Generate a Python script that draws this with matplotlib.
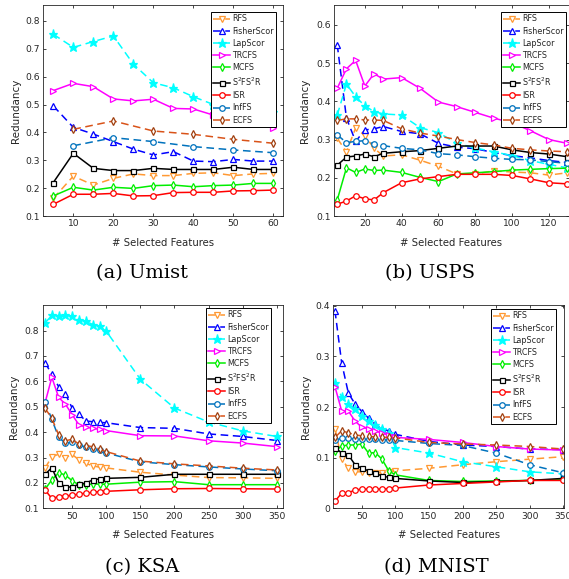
import matplotlib
matplotlib.use("Agg")
import matplotlib.pyplot as plt
from matplotlib.ticker import FixedLocator

methods = ["RFS", "FisherScor", "LapScor", "TRCFS", "MCFS", "S$^2$FS$^2$R", "ISR", "InfFS", "ECFS"]

# ---------------- Umist ----------------
umist_x = [5, 10, 15, 20, 25, 30, 35, 40, 45, 50, 55, 60]
umist_x10 = [10, 20, 30, 40, 50, 60]
umist_rfs = [0.163, 0.243, 0.211, 0.235, 0.251, 0.245, 0.245, 0.253, 0.255, 0.245, 0.251, 0.253]
umist_fisher = [0.495, 0.418, 0.394, 0.367, 0.340, 0.319, 0.331, 0.297, 0.295, 0.303, 0.297, 0.297]
umist_lap = [0.752, 0.705, 0.726, 0.746, 0.645, 0.578, 0.560, 0.528, 0.500, 0.490, 0.480, 0.472]
umist_trcfs = [0.550, 0.576, 0.564, 0.520, 0.513, 0.519, 0.486, 0.484, 0.462, 0.454, 0.430, 0.417]
umist_mcfs = [0.172, 0.203, 0.193, 0.203, 0.199, 0.209, 0.211, 0.205, 0.209, 0.211, 0.217, 0.217]
umist_s2 = [0.220, 0.325, 0.271, 0.263, 0.263, 0.271, 0.267, 0.267, 0.267, 0.275, 0.267, 0.267]
umist_isr = [0.142, 0.178, 0.178, 0.181, 0.172, 0.173, 0.184, 0.185, 0.185, 0.190, 0.191, 0.193]
umist_inffs = [0.352, 0.381, 0.367, 0.349, 0.337, 0.327]
umist_ecfs = [0.411, 0.441, 0.405, 0.393, 0.375, 0.361]

# ---------------- USPS ----------------
usps_x = [5, 10, 15, 20, 25, 30, 40, 50, 60, 70, 80, 90, 100, 110, 120, 130]
usps_rfs = [0.303, 0.268, 0.330, 0.310, 0.277, 0.257, 0.260, 0.246, 0.230, 0.210, 0.210, 0.218, 0.215, 0.213, 0.207, 0.213]
usps_fisher = [0.548, 0.356, 0.295, 0.325, 0.328, 0.334, 0.321, 0.315, 0.290, 0.280, 0.276, 0.266, 0.258, 0.252, 0.245, 0.240]
usps_lap = [0.364, 0.445, 0.412, 0.388, 0.373, 0.367, 0.364, 0.331, 0.318, 0.290, 0.278, 0.268, 0.258, 0.245, 0.235, 0.226]
usps_trcfs = [0.434, 0.485, 0.507, 0.440, 0.472, 0.458, 0.462, 0.434, 0.398, 0.386, 0.371, 0.356, 0.344, 0.323, 0.300, 0.290]
usps_mcfs = [0.142, 0.226, 0.214, 0.223, 0.219, 0.220, 0.214, 0.201, 0.190, 0.210, 0.213, 0.216, 0.220, 0.222, 0.224, 0.225]
usps_s2 = [0.233, 0.254, 0.257, 0.262, 0.255, 0.264, 0.268, 0.271, 0.277, 0.283, 0.283, 0.283, 0.273, 0.266, 0.262, 0.255]
usps_isr = [0.131, 0.139, 0.153, 0.145, 0.142, 0.161, 0.187, 0.197, 0.203, 0.209, 0.209, 0.209, 0.206, 0.197, 0.187, 0.184]
usps_inffs = [0.312, 0.292, 0.295, 0.297, 0.288, 0.284, 0.277, 0.273, 0.263, 0.260, 0.255, 0.251, 0.248, 0.247, 0.242, 0.238]
usps_ecfs = [0.350, 0.354, 0.354, 0.351, 0.351, 0.350, 0.328, 0.317, 0.309, 0.300, 0.292, 0.286, 0.277, 0.273, 0.270, 0.268]

# ---------------- KSA ----------------
ksa_x = [10, 20, 30, 40, 50, 60, 70, 80, 90, 100, 150, 200, 250, 300, 350]
ksa_rfs = [0.258, 0.303, 0.313, 0.300, 0.312, 0.290, 0.277, 0.267, 0.262, 0.259, 0.242, 0.231, 0.221, 0.220, 0.218]
ksa_fisher = [0.674, 0.628, 0.579, 0.550, 0.494, 0.470, 0.444, 0.441, 0.438, 0.437, 0.418, 0.415, 0.393, 0.383, 0.367]
ksa_lap = [0.830, 0.860, 0.859, 0.860, 0.856, 0.843, 0.837, 0.824, 0.817, 0.797, 0.608, 0.495, 0.440, 0.405, 0.383]
ksa_trcfs = [0.515, 0.616, 0.537, 0.510, 0.468, 0.428, 0.420, 0.415, 0.411, 0.406, 0.386, 0.385, 0.366, 0.357, 0.343]
ksa_mcfs = [0.175, 0.212, 0.240, 0.231, 0.208, 0.192, 0.193, 0.196, 0.195, 0.195, 0.203, 0.205, 0.193, 0.193, 0.193]
ksa_s2 = [0.234, 0.260, 0.199, 0.185, 0.183, 0.196, 0.199, 0.212, 0.216, 0.218, 0.222, 0.234, 0.234, 0.234, 0.234]
ksa_isr = [0.172, 0.139, 0.146, 0.148, 0.152, 0.156, 0.160, 0.163, 0.166, 0.167, 0.173, 0.177, 0.178, 0.177, 0.176]
ksa_inffs = [0.520, 0.450, 0.380, 0.356, 0.360, 0.350, 0.340, 0.335, 0.328, 0.318, 0.283, 0.272, 0.263, 0.255, 0.248]
ksa_ecfs = [0.494, 0.455, 0.389, 0.366, 0.372, 0.352, 0.346, 0.343, 0.333, 0.323, 0.286, 0.275, 0.267, 0.258, 0.251]

# ---------------- MNIST ----------------
mnist_x = [10, 20, 30, 40, 50, 60, 70, 80, 90, 100, 150, 200, 250, 300, 350]
mnist_rfs = [0.157, 0.097, 0.079, 0.072, 0.072, 0.070, 0.070, 0.070, 0.072, 0.074, 0.079, 0.086, 0.092, 0.097, 0.102]
mnist_fisher = [0.390, 0.287, 0.227, 0.206, 0.191, 0.178, 0.166, 0.157, 0.153, 0.146, 0.132, 0.125, 0.122, 0.117, 0.116]
mnist_lap = [0.248, 0.220, 0.206, 0.196, 0.182, 0.172, 0.165, 0.157, 0.148, 0.120, 0.109, 0.092, 0.082, 0.072, 0.068]
mnist_trcfs = [0.240, 0.192, 0.192, 0.172, 0.160, 0.157, 0.153, 0.148, 0.145, 0.140, 0.136, 0.130, 0.122, 0.117, 0.115]
mnist_mcfs = [0.113, 0.123, 0.125, 0.125, 0.127, 0.109, 0.110, 0.097, 0.074, 0.066, 0.055, 0.053, 0.054, 0.055, 0.057]
mnist_s2 = [0.120, 0.109, 0.105, 0.086, 0.079, 0.074, 0.069, 0.064, 0.061, 0.059, 0.054, 0.051, 0.053, 0.055, 0.059]
mnist_isr = [0.014, 0.030, 0.031, 0.036, 0.038, 0.038, 0.038, 0.038, 0.039, 0.040, 0.046, 0.049, 0.052, 0.055, 0.055]
mnist_inffs = [0.135, 0.138, 0.138, 0.137, 0.136, 0.136, 0.136, 0.135, 0.135, 0.134, 0.128, 0.124, 0.109, 0.086, 0.070]
mnist_ecfs = [0.140, 0.153, 0.149, 0.145, 0.143, 0.142, 0.141, 0.140, 0.140, 0.139, 0.130, 0.127, 0.125, 0.122, 0.117]

styles = [
    dict(color="#FF9933", ls=(0, (5, 3)), marker="v", mec="#FF9933"),
    dict(color="#0000FF", ls=(0, (5, 3)), marker="^", mec="#0000FF"),
    dict(color="#00FFFF", ls=(0, (5, 3)), marker="*", mec="#00FFFF", mfc="#00FFFF", ms=6.5),
    dict(color="#FF00FF", ls="-", marker=">", mec="#FF00FF"),
    dict(color="#00EE00", ls="-", marker="d", mec="#00EE00"),
    dict(color="#000000", ls="-", marker="s", mec="#000000", ms=3.6),
    dict(color="#FF0000", ls="-", marker="o", mec="#FF0000"),
    dict(color="#0072BD", ls=(0, (5, 3)), marker="o", mec="#0072BD"),
    dict(color="#D95319", ls=(0, (5, 3)), marker="d", mec="#A04010"),
]

W, H = 569, 579
fig = plt.figure(figsize=(W / 100, H / 100), dpi=100)
fig.patch.set_facecolor("white")

def px_axes(l, t, r, b):
    return fig.add_axes([l / W, 1 - b / H, (r - l) / W, (b - t) / H])

panels = [
    dict(rect=(43.3, 5.3, 282.7, 216.0), xs=[umist_x] * 7 + [umist_x10, umist_x10],
         ys=[umist_rfs, umist_fisher, umist_lap, umist_trcfs, umist_mcfs, umist_s2, umist_isr, umist_inffs, umist_ecfs],
         xlim=(2.5, 62.3), ylim=(0.1, 0.856), xticks=[10, 20, 30, 40, 50, 60],
         yticks=[0.1, 0.2, 0.3, 0.4, 0.5, 0.6, 0.7, 0.8],
         leg=(211, 12), cap="(a) Umist", capxy=(142.5, 273), ylx=15.7),
    dict(rect=(334.3, 5.3, 568.5, 216.0), xs=[usps_x] * 9,
         ys=[usps_rfs, usps_fisher, usps_lap, usps_trcfs, usps_mcfs, usps_s2, usps_isr, usps_inffs, usps_ecfs],
         xlim=(3.4, 130.7), ylim=(0.1, 0.651), xticks=[20, 40, 60, 80, 100, 120],
         yticks=[0.1, 0.2, 0.3, 0.4, 0.5, 0.6],
         leg=(501, 12), cap="(b) USPS", capxy=(430, 273), ylx=305),
    dict(rect=(42.7, 304.7, 282.7, 508.3), xs=[ksa_x] * 9,
         ys=[ksa_rfs, ksa_fisher, ksa_lap, ksa_trcfs, ksa_mcfs, ksa_s2, ksa_isr, ksa_inffs, ksa_ecfs],
         xlim=(6.6, 358.8), ylim=(0.1, 0.902), xticks=[50, 100, 150, 200, 250, 300, 350],
         yticks=[0.1, 0.2, 0.3, 0.4, 0.5, 0.6, 0.7, 0.8],
         leg=(206, 308), cap="(c) KSA", capxy=(141.7, 566.7), ylx=14),
    dict(rect=(333.3, 304.7, 564.3, 508.3), xs=[mnist_x] * 9,
         ys=[mnist_rfs, mnist_fisher, mnist_lap, mnist_trcfs, mnist_mcfs, mnist_s2, mnist_isr, mnist_inffs, mnist_ecfs],
         xlim=(7.5, 351.5), ylim=(0.0, 0.402), xticks=[50, 100, 150, 200, 250, 300, 350],
         yticks=[0.0, 0.1, 0.2, 0.3, 0.4],
         leg=(491, 309), cap="(d) MNIST", capxy=(436.3, 566.7), ylx=305.7),
]

txtc = "#262626"
for p in panels:
    l, t, r, b = p["rect"]
    ax = px_axes(l, t, r, b)
    for name, x, y, st in zip(methods, p["xs"], p["ys"], styles):
        kw = dict(st)
        ms = kw.pop("ms", 4.0)
        mfc = kw.pop("mfc", "white")
        ax.plot(x, y, label=name, lw=1.1, ms=ms, mfc=mfc, mew=0.9, clip_on=True, **kw)
    ax.set_xlim(*p["xlim"])
    ax.set_ylim(*p["ylim"])
    ax.xaxis.set_major_locator(FixedLocator(p["xticks"]))
    ax.yaxis.set_major_locator(FixedLocator(p["yticks"]))
    ax.set_yticklabels(["0" if v == 0 else f"{v:g}" for v in p["yticks"]])
    ax.tick_params(direction="in", top=True, right=True, length=2.5, width=0.6,
                   labelsize=6.6, colors=txtc, pad=2.5)
    for s in ax.spines.values():
        s.set_color(txtc)
        s.set_linewidth(0.6)
    ax.set_xlabel("# Selected Features", fontsize=7.3, color=txtc, va="center")
    ax.xaxis.set_label_coords(0.5, -27.0 / (b - t))
    ax.set_ylabel("Redundancy", fontsize=7.5, color=txtc, va="center")
    ax.yaxis.set_label_coords((p["ylx"] - l) / (r - l), 0.5)
    lx, ly = p["leg"]
    leg = ax.legend(loc="upper left", bbox_to_anchor=(lx / W, 1 - ly / H),
                    bbox_transform=fig.transFigure, borderaxespad=0,
                    fontsize=5.8, handlelength=2.1, handletextpad=0.2,
                    labelspacing=0.4, borderpad=0.3, fancybox=False,
                    framealpha=1, edgecolor="black")
    leg.get_frame().set_linewidth(0.7)
    for txt in leg.get_texts():
        txt.set_color(txtc)
    cx, cy = p["capxy"]
    fig.text(cx / W, 1 - cy / H, p["cap"], ha="center", va="center",
             fontsize=14, family="DejaVu Serif", color="black")

fig.savefig("out.png", dpi=100, facecolor="white")
